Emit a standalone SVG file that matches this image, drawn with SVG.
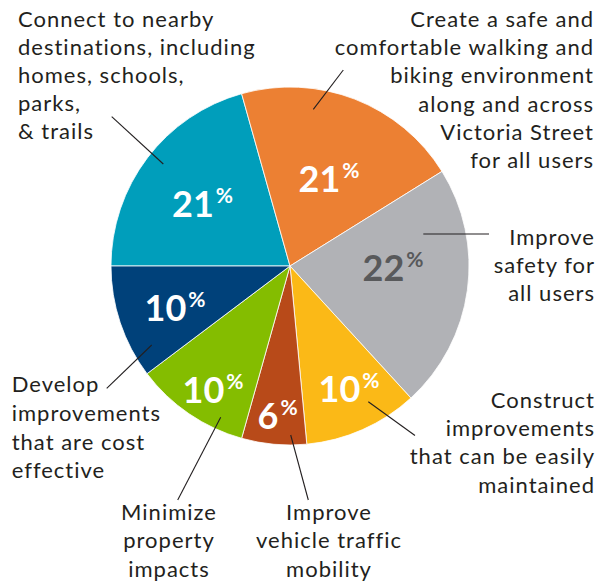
<svg xmlns="http://www.w3.org/2000/svg" width="599" height="586" viewBox="0 0 599 586">
<style>
.sl{stroke:#ffffff;stroke-width:0.8;stroke-linejoin:round}
.pct{font-family:Lato,"Open Sans","Liberation Sans",sans-serif;font-weight:bold;font-size:36px;fill:#ffffff}
.pct tspan{font-size:21px}
.lbl{font-family:Lato,"Open Sans","Liberation Sans",sans-serif;font-size:22px;letter-spacing:1px;fill:#231f20}
.end{text-anchor:end}
.mid{text-anchor:middle}
.ld{stroke:#231f20;stroke-width:1.1;fill:none}
</style>
<rect width="599" height="586" fill="#ffffff"/>
<g id="slice-connect">
<path class="sl" fill="#009ebb" d="M290,266 L111,266 A179,179 0 0 1 241.6,93.7 Z"/>
<text class="pct" x="172" y="216.7">21<tspan dx="2" dy="-13.7">%</tspan></text>
</g>
<g id="slice-walking">
<path class="sl" fill="#ec8033" d="M290,266 L241.6,93.7 A179,179 0 0 1 442,171.4 Z"/>
<text class="pct" x="298.5" y="191.7">21<tspan dx="2" dy="-13.7">%</tspan></text>
</g>
<g id="slice-safety">
<path class="sl" fill="#b1b2b6" d="M290,266 L442,171.4 A179,179 0 0 1 410.9,398 Z"/>
<text class="pct" x="362.5" y="280.7" style="fill:#58595b">22<tspan dx="2" dy="-13.7">%</tspan></text>
</g>
<g id="slice-maintain">
<path class="sl" fill="#fbb917" d="M290,266 L410.9,398 A179,179 0 0 1 306.8,444.2 Z"/>
<text class="pct" x="318.5" y="401.7">10<tspan dx="2" dy="-13.7">%</tspan></text>
</g>
<g id="slice-traffic">
<path class="sl" fill="#b84a19" d="M290,266 L306.8,444.2 A179,179 0 0 1 241.6,438.3 Z"/>
<text class="pct" x="257.5" y="429">6<tspan dx="2" dy="-13.7">%</tspan></text>
</g>
<g id="slice-property">
<path class="sl" fill="#84bd00" d="M290,266 L241.6,438.3 A179,179 0 0 1 147,373.7 Z"/>
<text class="pct" x="182.5" y="402.7">10<tspan dx="2" dy="-13.7">%</tspan></text>
</g>
<g id="slice-cost">
<path class="sl" fill="#00417a" d="M290,266 L147,373.7 A179,179 0 0 1 111,266 Z"/>
<text class="pct" x="144.5" y="320.7">10<tspan dx="2" dy="-13.7">%</tspan></text>
</g>
<g id="connectors">
<line class="ld" x1="111.7" y1="116.7" x2="163.3" y2="164"/>
<line class="ld" x1="343.3" y1="70" x2="313.3" y2="109.3"/>
<line class="ld" x1="423.3" y1="234" x2="489" y2="234"/>
<line class="ld" x1="368.3" y1="401.7" x2="415" y2="435.5"/>
<line class="ld" x1="290.7" y1="435" x2="308.3" y2="500"/>
<line class="ld" x1="220.7" y1="417.3" x2="177.7" y2="500"/>
<line class="ld" x1="151.7" y1="345" x2="106.7" y2="388.3"/>
</g>
<g id="label-connect">
<text class="lbl" x="18" y="27.3">Connect to nearby</text>
<text class="lbl" x="18" y="55.3">destinations, including</text>
<text class="lbl" x="18" y="83.3">homes, schools,</text>
<text class="lbl" x="18" y="111.3">parks,</text>
<text class="lbl" x="18" y="139.3">&amp; trails</text>
</g>
<g id="label-walking">
<text class="lbl end" x="594" y="26.7">Create a safe and</text>
<text class="lbl end" x="594" y="55">comfortable walking and</text>
<text class="lbl end" x="594" y="83.3">biking environment</text>
<text class="lbl end" x="594" y="111.7">along and across</text>
<text class="lbl end" x="594" y="140">Victoria Street</text>
<text class="lbl end" x="594" y="168.3">for all users</text>
</g>
<g id="label-safety">
<text class="lbl end" x="595" y="245">Improve</text>
<text class="lbl end" x="595" y="273">safety for</text>
<text class="lbl end" x="595" y="301">all users</text>
</g>
<g id="label-maintain">
<text class="lbl end" x="595" y="407.7">Construct</text>
<text class="lbl end" x="595" y="436">improvements</text>
<text class="lbl end" x="595" y="464.3">that can be easily</text>
<text class="lbl end" x="595" y="492.7">maintained</text>
</g>
<g id="label-traffic">
<text class="lbl mid" x="329" y="520">Improve</text>
<text class="lbl mid" x="329" y="548.3">vehicle traffic</text>
<text class="lbl mid" x="329" y="576.7">mobility</text>
</g>
<g id="label-property">
<text class="lbl mid" x="169" y="519.5">Minimize</text>
<text class="lbl mid" x="169" y="548">property</text>
<text class="lbl mid" x="169" y="576.5">impacts</text>
</g>
<g id="label-cost">
<text class="lbl" x="11.7" y="392.3">Develop</text>
<text class="lbl" x="11.7" y="421">improvements</text>
<text class="lbl" x="11.7" y="449.7">that are cost</text>
<text class="lbl" x="11.7" y="478">effective</text>
</g>
</svg>
